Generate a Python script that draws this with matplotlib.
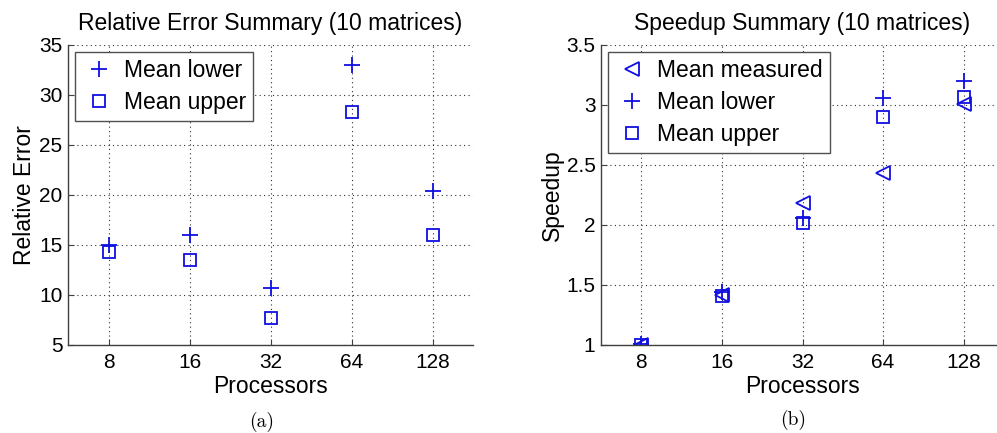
import matplotlib
matplotlib.use("Agg")
import matplotlib.pyplot as plt
from matplotlib.ticker import FixedLocator, FixedFormatter, NullLocator

# processor counts (x) and summary values
procs = [8, 16, 32, 64, 128]
tick_labels = ['8', '16', '32', '64', '128']

# (a) relative error
err_lower = [15.0, 16.0, 10.7, 33.0, 20.4]
err_upper = [14.3, 13.5, 7.7, 28.3, 16.0]

# (b) speedup
spd_measured = [1.0, 1.42, 2.18, 2.43, 3.01]
spd_lower = [1.01, 1.44, 2.06, 3.06, 3.20]
spd_upper = [1.0, 1.41, 2.02, 2.90, 3.07]

plt.rcParams['font.family'] = ['Liberation Sans', 'DejaVu Sans']
blue = '#1010e0'
fs = 15
lfs = 16.5

fig = plt.figure(figsize=(9.97, 4.33), dpi=100)
ax1 = fig.add_axes([68 / 997, 88 / 433, 405 / 997, 300 / 433])
ax2 = fig.add_axes([601 / 997, 88 / 433, 403 / 997, 300 / 433])


def style(ax, ylim, yticks, ylabels):
    ax.set_xscale('log', base=2)
    ax.set_xlim(2 ** 2.5, 2 ** 7.5)
    ax.set_ylim(*ylim)
    ax.xaxis.set_major_locator(FixedLocator(procs))
    ax.xaxis.set_major_formatter(FixedFormatter(tick_labels))
    ax.xaxis.set_minor_locator(NullLocator())
    ax.set_yticks(yticks)
    ax.set_yticklabels(ylabels)
    ax.tick_params(direction='in', length=4, width=0.8, color='#404040',
                   labelsize=fs, top=False, right=False)
    ax.tick_params(axis='x', pad=6)
    ax.tick_params(axis='y', pad=4)
    for s in ['top', 'right']:
        ax.spines[s].set_visible(False)
    for s in ['left', 'bottom']:
        ax.spines[s].set_color('#404040')
        ax.spines[s].set_linewidth(1.0)
    ax.grid(True, linestyle=(0, (1, 3)), color='#303030', linewidth=0.8)
    ax.set_axisbelow(True)
    ax.set_xlabel('Processors', fontsize=lfs, labelpad=2)


def legend(ax):
    leg = ax.legend(loc='upper left', bbox_to_anchor=(0.017, 0.977), fontsize=lfs,
                    fancybox=False, framealpha=1, edgecolor='#505050',
                    borderaxespad=0, handletextpad=0.35, borderpad=0.3,
                    labelspacing=0.4, handlelength=1.5)
    leg.get_frame().set_linewidth(1.0)


# (a)
ax1.plot(procs, err_lower, '+', color=blue, ms=11, mew=1.3, label='Mean lower')
ax1.plot(procs, err_upper, 's', color=blue, ms=9, mew=1.3, mfc='none', label='Mean upper')
style(ax1, (5, 35), [5, 10, 15, 20, 25, 30, 35], ['5', '10', '15', '20', '25', '30', '35'])
ax1.set_ylabel('Relative Error', fontsize=lfs, labelpad=2)
ax1.set_title('Relative Error Summary (10 matrices)', fontsize=lfs, pad=11)
legend(ax1)

# (b)
ax2.plot(procs, spd_measured, '<', color=blue, ms=10, mew=1.3, mfc='none', label='Mean measured')
ax2.plot(procs, spd_lower, '+', color=blue, ms=11, mew=1.3, label='Mean lower')
ax2.plot(procs, spd_upper, 's', color=blue, ms=9, mew=1.3, mfc='none', label='Mean upper')
style(ax2, (1, 3.5), [1, 1.5, 2, 2.5, 3, 3.5], ['1', '1.5', '2', '2.5', '3', '3.5'])
ax2.set_ylabel('Speedup', fontsize=lfs, labelpad=2)
ax2.set_title('Speedup Summary (10 matrices)', fontsize=lfs, pad=11, x=0.5)
legend(ax2)

# captions
fig.text(262 / 997, 1 - 422 / 433, '(a)', family='cmr10', fontsize=14, ha='center', va='center')
fig.text(793 / 997, 1 - 420 / 433, '(b)', family='cmr10', fontsize=14, ha='center', va='center')

fig.savefig('out.png', dpi=100)
